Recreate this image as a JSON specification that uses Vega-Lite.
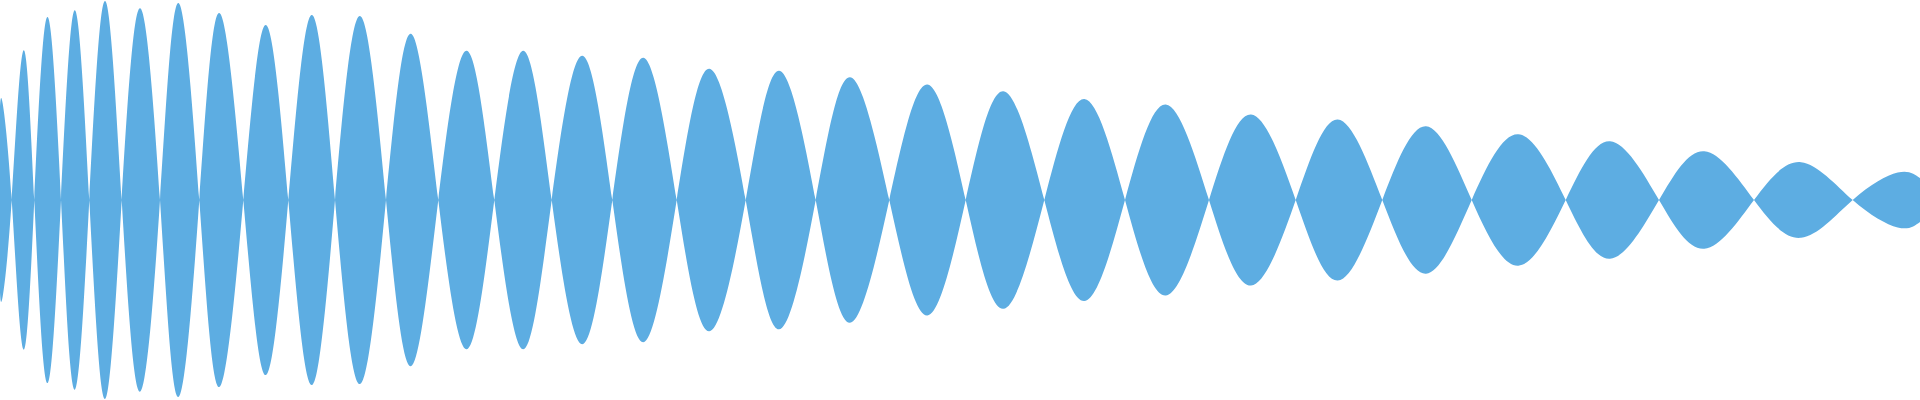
{
  "$schema": "https://vega.github.io/schema/vega-lite/v6.json",
  "width": 1920,
  "height": 400,
  "autosize": {"type": "fit", "contains": "padding"},
  "padding": 0,
  "background": "white",
  "config": {"view": {"stroke": null}},
  "data": {"values": [
    {"t": 0, "v": 0.465, "w": -0.465},
    {"t": 2.7, "v": 0.485, "w": -0.485},
    {"t": 11.7, "v": 0, "w": 0},
    {"t": 23.3, "v": -0.75, "w": 0.75},
    {"t": 34.3, "v": 0, "w": 0},
    {"t": 47.3, "v": 0.92, "w": -0.92},
    {"t": 61, "v": 0, "w": 0},
    {"t": 74.7, "v": -0.953, "w": 0.953},
    {"t": 89.3, "v": 0, "w": 0},
    {"t": 105, "v": 1.0, "w": -1.0},
    {"t": 121.7, "v": 0, "w": 0},
    {"t": 140, "v": -0.963, "w": 0.963},
    {"t": 160, "v": 0, "w": 0},
    {"t": 178.3, "v": 0.99, "w": -0.99},
    {"t": 199.3, "v": 0, "w": 0},
    {"t": 219.3, "v": -0.94, "w": 0.94},
    {"t": 243.3, "v": 0, "w": 0},
    {"t": 265.7, "v": 0.88, "w": -0.88},
    {"t": 288.3, "v": 0, "w": 0},
    {"t": 311.7, "v": -0.93, "w": 0.93},
    {"t": 335, "v": 0, "w": 0},
    {"t": 360, "v": 0.925, "w": -0.925},
    {"t": 386, "v": 0, "w": 0},
    {"t": 411, "v": -0.835, "w": 0.835},
    {"t": 438.3, "v": 0, "w": 0},
    {"t": 466.7, "v": 0.75, "w": -0.75},
    {"t": 494.3, "v": 0, "w": 0},
    {"t": 523.3, "v": -0.75, "w": 0.75},
    {"t": 551.7, "v": 0, "w": 0},
    {"t": 582.3, "v": 0.725, "w": -0.725},
    {"t": 612.3, "v": 0, "w": 0},
    {"t": 643.3, "v": -0.715, "w": 0.715},
    {"t": 676.7, "v": 0, "w": 0},
    {"t": 709.3, "v": 0.66, "w": -0.66},
    {"t": 745.7, "v": 0, "w": 0},
    {"t": 779, "v": -0.65, "w": 0.65},
    {"t": 815.7, "v": 0, "w": 0},
    {"t": 850, "v": 0.617, "w": -0.617},
    {"t": 889.3, "v": 0, "w": 0},
    {"t": 927.3, "v": -0.58, "w": 0.58},
    {"t": 965.7, "v": 0, "w": 0},
    {"t": 1003.3, "v": 0.547, "w": -0.547},
    {"t": 1044.3, "v": 0, "w": 0},
    {"t": 1084.3, "v": -0.508, "w": 0.508},
    {"t": 1125, "v": 0, "w": 0},
    {"t": 1165.7, "v": 0.48, "w": -0.48},
    {"t": 1209, "v": 0, "w": 0},
    {"t": 1251, "v": -0.43, "w": 0.43},
    {"t": 1295.7, "v": 0, "w": 0},
    {"t": 1337.7, "v": 0.405, "w": -0.405},
    {"t": 1382.3, "v": 0, "w": 0},
    {"t": 1426, "v": -0.37, "w": 0.37},
    {"t": 1471.7, "v": 0, "w": 0},
    {"t": 1518.3, "v": 0.33, "w": -0.33},
    {"t": 1565.7, "v": 0, "w": 0},
    {"t": 1610, "v": -0.295, "w": 0.295},
    {"t": 1659, "v": 0, "w": 0},
    {"t": 1704.3, "v": 0.245, "w": -0.245},
    {"t": 1754, "v": 0, "w": 0},
    {"t": 1801, "v": -0.19, "w": 0.19},
    {"t": 1852.7, "v": 0, "w": 0},
    {"t": 1897.7, "v": 0.138, "w": -0.138},
    {"t": 1920, "v": 0.11, "w": -0.11}
  ]},
  "mark": {"type": "area", "interpolate": "natural", "color": "#5DADE2", "opacity": 1},
  "encoding": {
    "x": {"field": "t", "type": "quantitative", "scale": {"domain": [0, 1920], "nice": false, "zero": false}, "axis": null},
    "y": {"field": "v", "type": "quantitative", "scale": {"domain": [-1, 1], "nice": false}, "axis": null},
    "y2": {"field": "w"}
  }
}
